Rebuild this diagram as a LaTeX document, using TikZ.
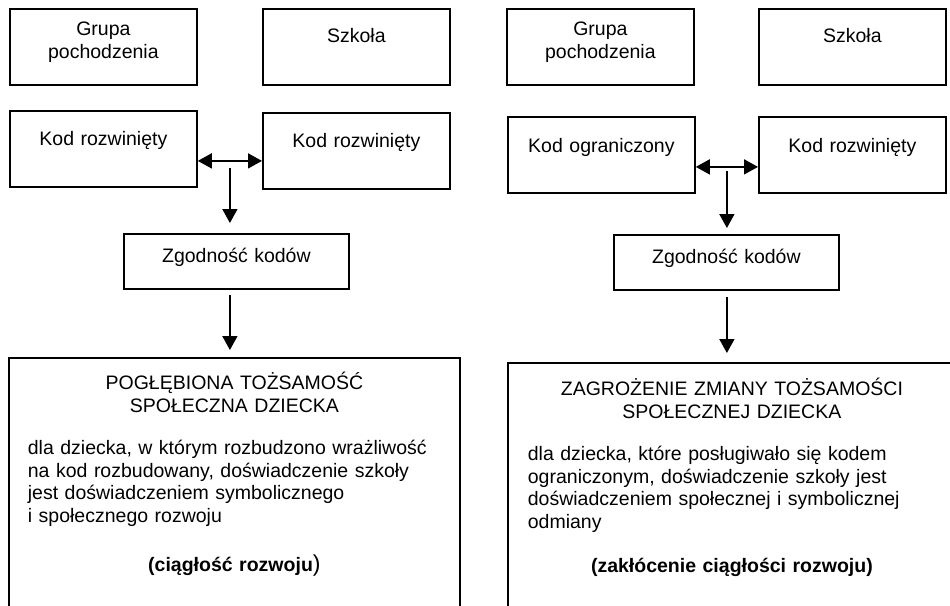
\documentclass[tikz,border=0pt]{standalone}
\usepackage{fontspec}
\setmainfont{Liberation Sans}
\usepackage{tikz}
\usetikzlibrary{arrows.meta,calc}
\tikzset{
	>={Triangle[length=7pt,width=7.5pt]},
	strzalka/.style = {->, line width=0.8pt},
	blok/.style = {
			draw, line width=0.9pt,
			anchor=north west,
			inner sep=0pt,
			align=center,
			text width=93.5pt,
			text height=17.5pt,
			text depth=20.5pt,
		},
	zgoda/.style = {blok, text width=112.5pt, text height=14.5pt, text depth=13pt},
	wynik/.style = {
			draw, line width=0.9pt,
			anchor=north west,
			inner xsep=9.5pt, inner ysep=0pt,
			text width=206.5pt,
			text height=16pt,
			text depth=200pt,
		}
}
\newcommand{\tytul}[1]{\centering #1\par\vspace{9.7pt}\raggedright\parfillskip=0pt plus 1fil\relax}
\begin{document}
\fontsize{9.75}{11.3}\selectfont
\begin{tikzpicture}[x=0.5pt,y=-0.5pt]
			\useasboundingbox (0,0) rectangle (950,606);
			\clip (0,0) rectangle (950,606);

			% lewa strona
			\node[blok, text height=13.5pt, text depth=24.5pt] (grupaL) at (9,8) {Grupa\\pochodzenia};
			\node[blok, text height=17pt, text depth=21pt] (szkolaL) at (262,8) {Szkoła};
			\node[blok] (kodL) at (9,110) {Kod rozwinięty};
			\node[blok] (kodLs) at (262,112) {Kod rozwinięty};
			\node[zgoda] (zgL) at (123,233) {Zgodność kodów};
			\node[wynik] (dolL) at (8,357) {\tytul{POGŁĘBIONA TOŻSAMOŚĆ\\SPOŁECZNA DZIECKA}
				\mbox{dla dziecka, w którym rozbudzono wrażliwość}\\
				\mbox{na kod rozbudowany, doświadczenie szkoły}\\
				\mbox{jest doświadczeniem symbolicznego}\\
				\mbox{i społecznego rozwoju}\par\vspace{13.2pt}
				\centering\textbf{(ciągłość rozwoju}{\fontsize{11.5}{11.3}\selectfont)}\par};

			\coordinate (jL) at ([yshift=-6pt]kodL.east);
			\coordinate (mL) at ($(jL)!0.5!(jL -| kodLs.west)$);
			\draw[strzalka, <->] (jL) -- (jL -| kodLs.west);
			\draw[strzalka, shorten >=5pt] ([yshift=-3.5pt]mL) -- (mL |- zgL.north);
			\draw[strzalka, shorten <=2.5pt, shorten >=3.5pt] (mL |- zgL.south) -- (mL |- dolL.north);

			% prawa strona
			\node[blok, text height=13.5pt, text depth=24.5pt] (grupaP) at (506,8) {Grupa\\pochodzenia};
			\node[blok, text height=17pt, text depth=21pt] (szkolaP) at (758,8) {Szkoła};
			\node[blok, text height=18pt, text depth=20pt] (kodP) at (507,116) {Kod ograniczony};
			\node[blok, text height=18pt, text depth=20pt] (kodPs) at (758,116) {Kod rozwinięty};
			\node[zgoda] (zgP) at (613,234) {Zgodność kodów};
			\node[wynik, inner xsep=10pt, text width=204pt, text height=16.5pt] (dolP) at (507,362) {\tytul{ZAGROŻENIE ZMIANY TOŻSAMOŚCI\\SPOŁECZNEJ DZIECKA}
				\mbox{dla dziecka, które posługiwało się kodem}\\
				\mbox{ograniczonym, doświadczenie szkoły jest}\\
				\mbox{doświadczeniem społecznej i symbolicznej}\\
				\mbox{odmiany}\par\vspace{10.7pt}
				\centering\textbf{(zakłócenie ciągłości rozwoju)}\par};

			\coordinate (jP) at ([yshift=-6pt]kodP.east);
			\coordinate (mP) at ($(jP)!0.5!(jP -| kodPs.west)$);
			\draw[strzalka, <->] (jP) -- (jP -| kodPs.west);
			\draw[strzalka, shorten >=3pt] ([yshift=-2pt]mP) -- (mP |- zgP.north);
			\draw[strzalka, shorten <=3pt, shorten >=4.5pt] (mP |- zgP.south) -- (mP |- dolP.north);
		\end{tikzpicture}
\end{document}
